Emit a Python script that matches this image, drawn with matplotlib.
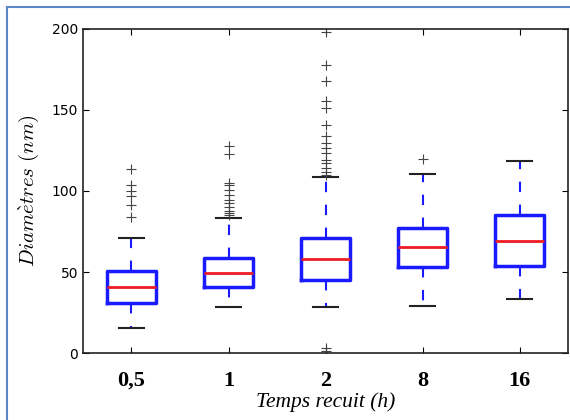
import matplotlib
matplotlib.use('Agg')
import matplotlib.pyplot as plt
from matplotlib.lines import Line2D

plt.rcParams['mathtext.fontset'] = 'cm'

# data (nm)
labels = ['0,5', '1', '2', '8', '16']
q1 = [31, 40.7, 45, 53, 54]
med = [40.7, 49.4, 58, 65.6, 69]
q3 = [50.6, 58.6, 71, 77, 85]
whislo = [15.4, 28.4, 28.4, 29, 33.3]
whishi = [71, 83.3, 108.6, 110.5, 118.5]
fliers = [
    [113.6, 103.7, 100, 97, 91.4, 84],
    [127.8, 122.8, 105, 103.7, 100.6, 97.5, 94.4, 92.6, 90, 87.6, 86.4, 85],
    [198, 178, 168, 155.5, 151, 141, 134, 129.6, 126.5, 123.5, 119, 117,
     114, 111.7, 110, 3, 1],
    [119.6],
    [],
]

stats = []
for i in range(len(labels)):
    stats.append(dict(label=labels[i], q1=q1[i], med=med[i], q3=q3[i],
                      whislo=whislo[i], whishi=whishi[i], fliers=fliers[i]))

fig = plt.figure(figsize=(5.7, 4.2), dpi=100)
ax = fig.add_axes([0.1456, 0.1595, 0.851, 0.7715])

ax.bxp(stats, widths=0.5,
       boxprops=dict(color='#1a1aff', linewidth=2.5),
       medianprops=dict(color='#ee1c24', linewidth=2),
       whiskerprops=dict(color='#1a1aff', linewidth=1.5, linestyle=(0, (5, 6))),
       capprops=dict(color='#222222', linewidth=1.5),
       flierprops=dict(marker='+', markeredgecolor='#444444', markersize=7,
                       markeredgewidth=0.8, linestyle='none'))

ax.set_ylim(0, 200)
ax.set_xlim(0.5, 5.5)
ax.set_yticks([0, 50, 100, 150, 200])
ax.tick_params(direction='in', top=True, right=True, length=4, width=0.8,
               labelsize=10)
ax.tick_params(axis='x', pad=13)
for lab in ax.get_xticklabels():
    lab.set_fontfamily('Liberation Serif')
    lab.set_fontweight('bold')
    lab.set_fontsize(16)
for sp in ax.spines.values():
    sp.set_linewidth(1.2)
    sp.set_color('#222222')

ax.set_ylabel(r'$Diam\grave{e}tres\ (nm)$', fontsize=15, labelpad=8)
ax.set_xlabel('Temps recuit (h)', fontsize=15.5, fontstyle='italic',
              fontfamily='Liberation Serif', labelpad=1)

# picture border (left and top)
fig.add_artist(Line2D([7 / 570, 7 / 570], [0, 1 - 7 / 420], color='#5b87c9',
                      linewidth=1.5, transform=fig.transFigure))
fig.add_artist(Line2D([7 / 570, 1], [1 - 7 / 420, 1 - 7 / 420], color='#5b87c9',
                      linewidth=1.5, transform=fig.transFigure))

plt.savefig('out.png')
